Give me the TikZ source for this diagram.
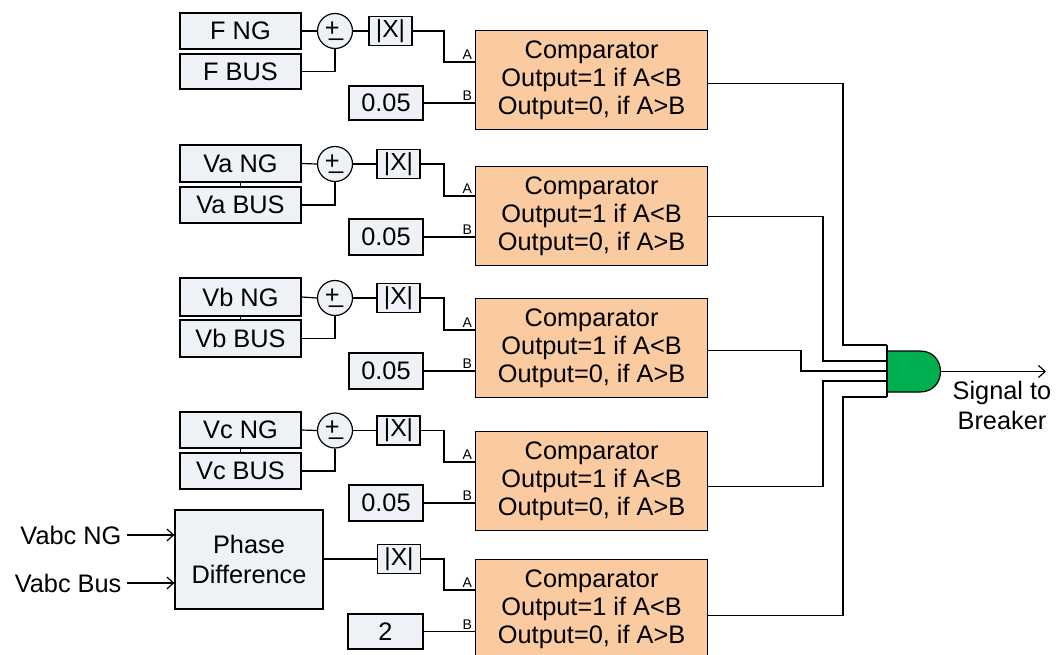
\documentclass[tikz,border=0pt]{standalone}
\usepackage{fontspec}
\setmainfont{Liberation Sans}
\usetikzlibrary{arrows.meta}
\definecolor{boxfill}{RGB}{238,241,246}
\definecolor{peach}{RGB}{250,202,160}
\definecolor{gatefill}{RGB}{0,176,80}
\newcommand{\pmtxt}{\kern-0.08em+\kern-0.42em\raisebox{0.05em}{\_}}
\begin{document}
\begin{tikzpicture}[x=0.75pt,y=-0.75pt, line width=0.9pt,
  every node/.style={inner sep=0pt},
  lbl/.style={font=\fontsize{19pt}{22.7pt}\selectfont},
  blk/.style={draw, fill=boxfill, font=\fontsize{19pt}{22pt}\selectfont},
  absbox/.style={draw, fill=boxfill, font=\fontsize{18.5pt}{20pt}\selectfont, minimum width=43*0.75pt, minimum height=29*0.75pt},
  sumc/.style={draw, circle, fill=boxfill, minimum size=35*0.75pt, font=\fontsize{19pt}{20pt}\selectfont},
  cmp/.style={draw, fill=peach, align=center, anchor=north west, minimum width=232*0.75pt, minimum height=99*0.75pt, font=\fontsize{19pt}{20.8pt}\selectfont},
  pinlbl/.style={font=\fontsize{10.5pt}{12pt}\selectfont, anchor=south east, inner sep=1pt},
  sig/.style={-{Straight Barb[length=5pt,width=9pt]}}
]
\useasboundingbox (0,0) rectangle (1057,654);

% ---------- block 1 ----------
\node[blk, minimum width=121*0.75pt, minimum height=36*0.75pt] (ng1) at (240.5,31) {F NG};
\node[blk, minimum width=121*0.75pt, minimum height=35*0.75pt] (bus1) at (240.5,71.5) {F BUS};
\node[sumc] (s1) at (335,31) {\pmtxt};
\node[absbox] (x1) at (390.5,31) {|X|};
\node[cmp] (c1) at (475,30) {Comparator\\Output=1 if A<B\\Output=0, if A>B};
\node[blk, minimum width=74*0.75pt, minimum height=34*0.75pt] (k1) at (386,103) {0.05};
\node[pinlbl] (pa1) at (474,61) {A};
\node[pinlbl] (pb1) at (474,102) {B};
\draw (ng1.east) -- (s1.west);
\draw (bus1.east) -| (s1.south);
\draw (s1.east) -- (x1.west);
\draw (x1.east) -| (444,62) -- (c1.west |- 444,62);
\draw (k1.east) -- (c1.west |- k1.east);

% ---------- block 2 ----------
\node[blk, minimum width=121*0.75pt, minimum height=37*0.75pt] (ng2) at (240.5,163.5) {Va NG};
\node[blk, minimum width=121*0.75pt, minimum height=36*0.75pt] (bus2) at (240.5,205) {Va BUS};
\node[sumc] (s2) at (335,164) {\pmtxt};
\node[absbox] (x2) at (398.5,164) {|X|};
\node[cmp] (c2) at (475,166) {Comparator\\Output=1 if A<B\\Output=0, if A>B};
\node[blk, minimum width=74*0.75pt, minimum height=36*0.75pt] (k2) at (386,237) {0.05};
\node[pinlbl] (pa2) at (474,195) {A};
\node[pinlbl] (pb2) at (474,236) {B};
\draw (ng2.south) -- (bus2.north);
\draw (ng2.east) -- (s2.west);
\draw (bus2.east) -| (s2.south);
\draw (s2.east) -- (x2.west);
\draw (x2.east) -| (444,196) -- (c2.west |- 444,196);
\draw (k2.east) -- (c2.west |- k2.east);

% ---------- block 3 ----------
\node[blk, minimum width=121*0.75pt, minimum height=38*0.75pt] (ng3) at (240.5,297) {Vb NG};
\node[blk, minimum width=121*0.75pt, minimum height=37*0.75pt] (bus3) at (240.5,338.5) {Vb BUS};
\node[sumc] (s3) at (335,298) {\pmtxt};
\node[absbox] (x3) at (398.5,298) {|X|};
\node[cmp] (c3) at (475,298) {Comparator\\Output=1 if A<B\\Output=0, if A>B};
\node[blk, minimum width=74*0.75pt, minimum height=36*0.75pt] (k3) at (386,371) {0.05};
\node[pinlbl] (pa3) at (474,329) {A};
\node[pinlbl] (pb3) at (474,370) {B};
\draw (ng3.south) -- (bus3.north);
\draw (ng3.east) -- (s3.west);
\draw (bus3.east) -| (s3.south);
\draw (s3.east) -- (x3.west);
\draw (x3.east) -| (444,330) -- (c3.west |- 444,330);
\draw (k3.east) -- (c3.west |- k3.east);

% ---------- block 4 ----------
\node[blk, minimum width=121*0.75pt, minimum height=36*0.75pt] (ng4) at (240.5,430) {Vc NG};
\node[blk, minimum width=121*0.75pt, minimum height=36*0.75pt] (bus4) at (240.5,471) {Vc BUS};
\node[sumc] (s4) at (335,430.5) {\pmtxt};
\node[absbox] (x4) at (398.5,430.5) {|X|};
\node[cmp] (c4) at (475,431) {Comparator\\Output=1 if A<B\\Output=0, if A>B};
\node[blk, minimum width=74*0.75pt, minimum height=36*0.75pt] (k4) at (386,503) {0.05};
\node[pinlbl] (pa4) at (474,461) {A};
\node[pinlbl] (pb4) at (474,502) {B};
\draw (ng4.south) -- (bus4.north);
\draw (ng4.east) -- (s4.west);
\draw (bus4.east) -| (s4.south);
\draw (s4.east) -- (x4.west);
\draw (x4.east) -| (444,462) -- (c4.west |- 444,462);
\draw (k4.east) -- (c4.west |- k4.east);

% ---------- block 5 ----------
\node[blk, align=center, minimum width=148*0.75pt, minimum height=99*0.75pt, font=\fontsize{19pt}{22.5pt}\selectfont] (pd) at (249,559.5) {Phase\\Difference};
\node[lbl, anchor=east] (vng) at (122,535) {Vabc NG};
\node[lbl, anchor=east] (vbus) at (122,583) {Vabc Bus};
\node[absbox] (x5) at (399,559) {|X|};
\node[cmp] (c5) at (475,559) {Comparator\\Output=1 if A<B\\Output=0, if A>B};
\node[blk, minimum width=75*0.75pt, minimum height=35*0.75pt] (k5) at (385.5,631.5) {2};
\node[pinlbl] (pa5) at (474,589) {A};
\node[pinlbl] (pb5) at (474,631) {B};
\draw[sig] ([xshift=3.75pt]vng.east) -- (pd.west |- vng.east);
\draw[sig] ([xshift=3.75pt]vbus.east) -- (pd.west |- vbus.east);
\draw (pd.east |- x5.west) -- (x5.west);
\draw (x5.east) -| (444,590) -- (c5.west |- 444,590);
\draw (k5.east) -- (c5.west |- k5.east);

% ---------- AND gate ----------
\coordinate (gi1) at (887,345);
\coordinate (gi2) at (887,361);
\coordinate (gi3) at (887,371);
\coordinate (gi4) at (887,381);
\coordinate (gi5) at (887,397);
\coordinate (gout) at (941,371.5);
\coordinate (sigend) at (1046,371.5);
\draw[fill=gatefill] (887,351) -- (920,351) .. controls (947.3,351) and (947.3,392) .. (920,392) -- (887,392) -- cycle;
\draw (gi1) -- (gi5);

\draw ([yshift=-2.625pt]c1.east) -| (843,345) -- (gi1);
\draw (c2.east) -| (823,361) -- (gi2);
\draw ([yshift=-1.875pt]c3.east) -| (801,371) -- (gi3);
\draw ([yshift=-4.125pt]c4.east) -| (823,381) -- (gi4);
\draw ([yshift=-4.875pt]c5.east) -| (843,397) -- (gi5);

\draw[sig] (gout) -- (sigend);
\node[lbl, align=center] (sigtxt) at (1002,405.5) {Signal to\\Breaker};
\end{tikzpicture}
\end{document}
